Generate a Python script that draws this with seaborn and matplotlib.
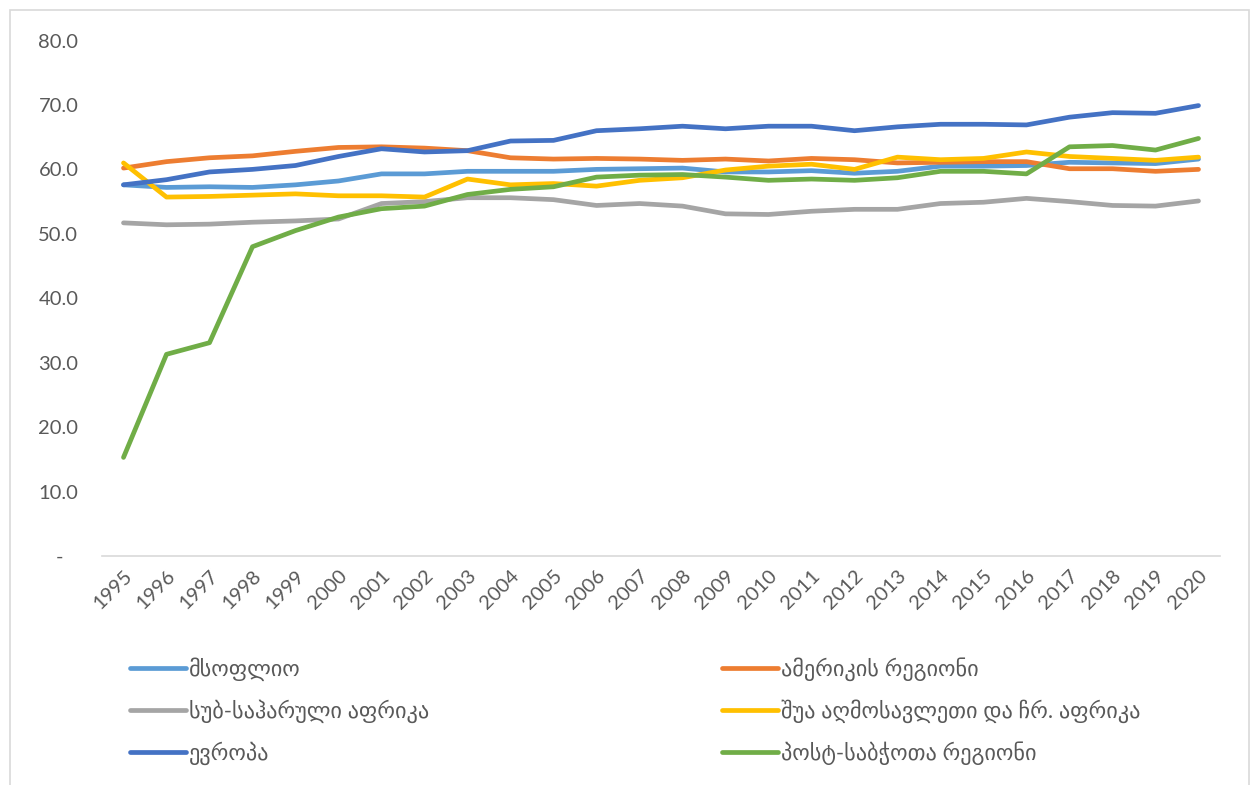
import numpy as np
import pandas as pd
import matplotlib
matplotlib.use("Agg")
import matplotlib.pyplot as plt
import seaborn as sns
from matplotlib.lines import Line2D
from matplotlib.patches import Rectangle

years = list(range(1995, 2021))

names = [
    "მსოფლიო",
    "ამერიკის რეგიონი",
    "სუბ-საჰარული აფრიკა",
    "შუა აღმოსავლეთი და ჩრ. აფრიკა",
    "ევროპა",
    "პოსტ-საბჭოთა რეგიონი",
]
colors = ["#5B9BD5", "#ED7D31", "#A5A5A5", "#FFC000", "#4472C4", "#70AD47"]

world = [57.6, 57.2, 57.3, 57.2, 57.6, 58.2, 59.3, 59.3, 59.7, 59.7, 59.7, 60.0, 60.1,
         60.2, 59.6, 59.6, 59.8, 59.4, 59.7, 60.5, 60.5, 60.6, 61.1, 61.0, 60.9, 61.6]
americas = [60.2, 61.2, 61.8, 62.1, 62.8, 63.4, 63.5, 63.3, 62.9, 61.8, 61.6, 61.7, 61.6,
            61.4, 61.6, 61.3, 61.7, 61.5, 61.0, 61.1, 61.2, 61.2, 60.1, 60.1, 59.7, 60.0]
subsaharan = [51.7, 51.4, 51.5, 51.8, 52.0, 52.3, 54.7, 55.0, 55.6, 55.6, 55.3, 54.4, 54.7,
              54.3, 53.1, 53.0, 53.5, 53.8, 53.8, 54.7, 54.9, 55.5, 55.0, 54.4, 54.3, 55.1]
mena = [61.0, 55.7, 55.8, 56.0, 56.2, 55.9, 55.9, 55.7, 58.5, 57.6, 57.8, 57.4, 58.3,
        58.7, 59.9, 60.5, 60.8, 60.0, 61.9, 61.5, 61.7, 62.7, 62.0, 61.7, 61.4, 61.9]
europe = [57.6, 58.4, 59.6, 60.0, 60.6, 62.0, 63.2, 62.7, 62.9, 64.4, 64.5, 66.0, 66.3,
          66.7, 66.3, 66.7, 66.7, 66.0, 66.6, 67.0, 67.0, 66.9, 68.1, 68.8, 68.7, 69.9]
postsoviet = [15.3, 31.3, 33.1, 48.0, 50.5, 52.6, 53.9, 54.3, 56.1, 56.9, 57.3, 58.8, 59.1,
              59.2, 58.8, 58.3, 58.5, 58.3, 58.7, 59.7, 59.7, 59.3, 63.5, 63.7, 63.0, 64.8]

series = [world, americas, subsaharan, mena, europe, postsoviet]

yticks = [0, 10, 20, 30, 40, 50, 60, 70, 80]
ytick_labels = ["-\u2002 "] + [f"{v:.1f}" for v in yticks[1:]]

df = pd.DataFrame({
    "year": np.tile(years, len(names)),
    "value": np.concatenate(series),
    "series": np.repeat(names, len(years)),
})

sns.set_theme(style="white")
plt.rcParams["font.family"] = ["Lato", "DejaVu Sans"]
TXT = "#595959"
FS = 14.5
LFS = 16
LW = 3.4

fig = plt.figure(figsize=(12.54, 7.85), dpi=100)
ax = fig.add_axes([102 / 1254, 1 - 556 / 785, (1220 - 102) / 1254, (556 - 40.5) / 785])

sns.lineplot(data=df, x="year", y="value", hue="series", hue_order=names,
             palette=colors, linewidth=LW, ax=ax, legend=False,
             solid_capstyle="round", solid_joinstyle="round")

ax.set_xlim(1994.5, 2020.5)
ax.set_ylim(0, 80)
ax.set_yticks(yticks)
ax.set_yticklabels(ytick_labels)
ax.set_xticks(years)
ax.set_xticklabels([str(y) for y in years], rotation=45, ha="right",
                   rotation_mode="anchor")
ax.set_xlabel("")
ax.set_ylabel("")
for s in ["top", "right", "left"]:
    ax.spines[s].set_visible(False)
ax.spines["bottom"].set_color("#D9D9D9")
ax.spines["bottom"].set_linewidth(1.2)
ax.tick_params(axis="both", length=0, labelsize=FS, colors=TXT)
ax.tick_params(axis="y", pad=17)
ax.tick_params(axis="x", pad=8)
ax.grid(False)

def make_legend(idx, x_px):
    handles = [Line2D([0], [0], color=colors[i], lw=LW, solid_capstyle="round") for i in idx]
    labels = [names[i] for i in idx]
    leg = fig.legend(handles, labels, loc="upper left",
                     bbox_to_anchor=(x_px / 1254, 1 - 657 / 785),
                     frameon=False, fontsize=LFS, handlelength=2.5,
                     handletextpad=0.15, labelspacing=0.83,
                     borderpad=0, borderaxespad=0)
    for t in leg.get_texts():
        t.set_color(TXT)
    return leg

make_legend([0, 2, 4], 130)
make_legend([1, 3, 5], 722)

fig.patches.append(Rectangle((9.5 / 1254, -0.02), (1249 - 9.5) / 1254, 1 - 10 / 785 + 0.02,
                             transform=fig.transFigure, fill=False,
                             edgecolor="#D9D9D9", linewidth=1.2))

fig.savefig("out.png", dpi=100)
